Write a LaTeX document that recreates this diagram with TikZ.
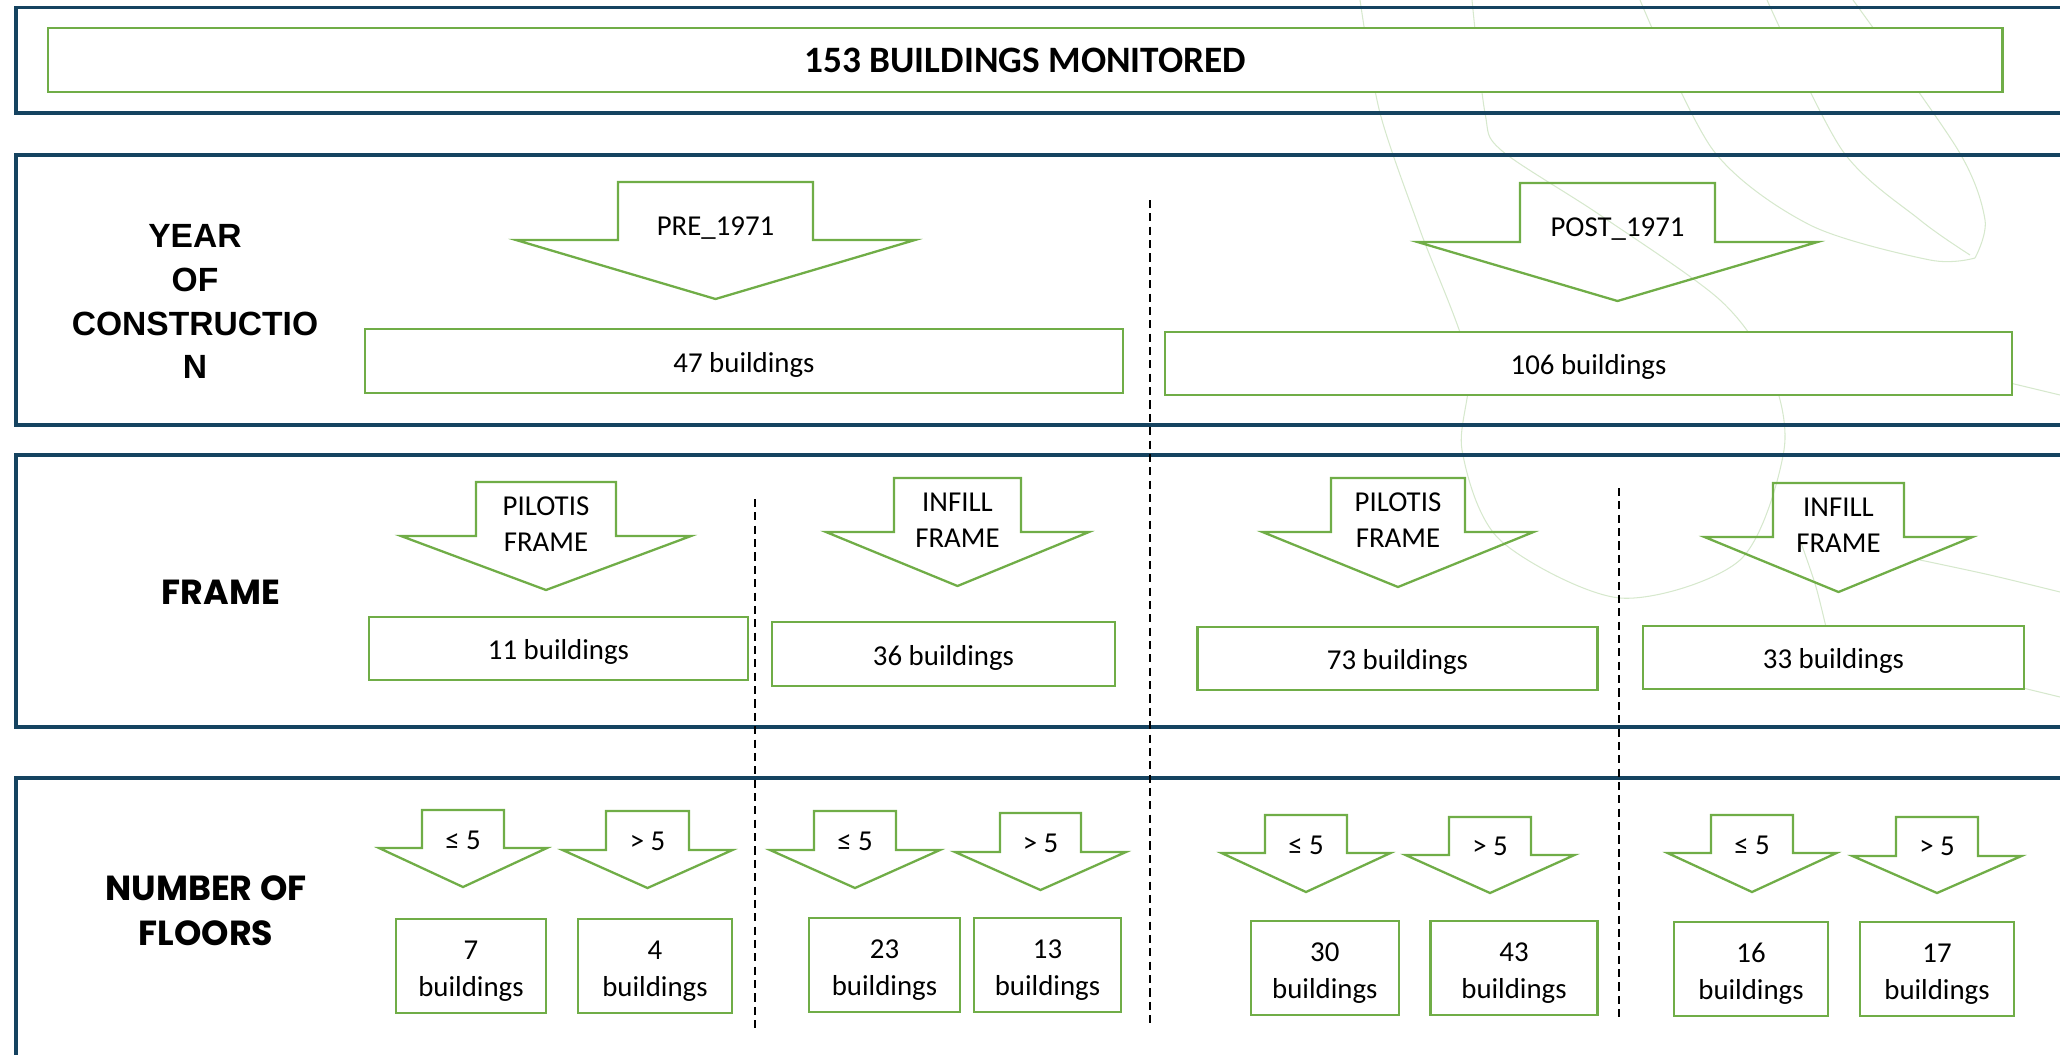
\documentclass[tikz,border=0pt]{standalone}
\usepackage{fontspec}
\setmainfont{Carlito}
\newfontfamily\arialfont{Liberation Sans}
\newfontfamily\popfont{Poppins}
\usetikzlibrary{calc}

\definecolor{framegreen}{RGB}{112,173,71}
\definecolor{bandblue}{RGB}{21,67,96}
\definecolor{wmark}{RGB}{214,232,205}

% block arrow: name, x, top, shoulder, tip, shaft half width, head half width, label
\newcommand{\catarrow}[8]{%
  \draw[arrowline] (#2-#6,#3) -- (#2+#6,#3) -- (#2+#6,#4) -- (#2+#7,#4)
    -- (#2,#5) -- (#2-#7,#4) -- (#2-#6,#4) -- cycle;
  \node[arrowlabel] (#1) at (#2,{#3+0.39*(#5-#3)}) {#8};
}

\begin{document}
\begin{tikzpicture}[x=0.01cm, y=-0.01cm,
    band/.style={draw=bandblue, line width=1pt, line join=miter},
    greenbox/.style={draw=framegreen, line width=0.65pt, fill=white, inner sep=0pt,
      align=center, text height=7.8pt, font=\fontsize{8.2}{10.5}\selectfont},
    floorbox/.style={greenbox, text height=18.5pt, minimum height=0.94cm},
    arrowline/.style={draw=framegreen, line width=0.65pt, line join=miter},
    arrowlabel/.style={inner sep=0pt, align=center, font=\fontsize{8.2}{10.2}\selectfont},
    seclabel/.style={inner sep=0pt, align=center},
    divider/.style={line width=0.42pt, dash pattern=on 2.3pt off 1.5pt},
    wmarkline/.style={draw=wmark, line width=0.3pt}]
  \useasboundingbox (0,0) rectangle (2060,1054);

  % faint background curves
  \draw[wmarkline] plot[smooth] coordinates {(1360,0) (1380,113) (1420,230) (1468,360)
    (1462,450) (1500,540) (1620,598) (1740,560) (1784,450) (1770,370) (1720,300)
    (1600,215) (1501,150) (1485,113) (1472,0)};
  \draw[wmarkline] plot[smooth] coordinates {(1640,0) (1713,150) (1810,225) (1930,260) (1975,258)};
  \draw[wmarkline] plot[smooth] coordinates {(1767,0) (1842,150) (1920,220) (1970,255)};
  \draw[wmarkline] plot[smooth] coordinates {(1853,0) (1958,150) (1985,220) (1975,258)};
  \draw[wmarkline] plot[smooth] coordinates {(1800,540) (1816,587) (1829,640)};
  \draw[wmarkline] plot[smooth] coordinates {(1920,560) (1990,575) (2060,592)};
  \draw[wmarkline] (2023,688) -- (2060,697);
  \draw[wmarkline] (2010,383) -- (2060,395);

  % bands
  \draw[band] (2075,7.5) -| (16,113) -- (2075,113);
  \draw[band] (2075,155) -| (16,425) -- (2075,425);
  \draw[band] (2075,455) -| (16,727) -- (2075,727);
  \draw[band] (2075,778) -| (16,1070);

  \node[greenbox, minimum width=19.53cm, minimum height=0.64cm, text height=6.9pt,
    font=\fontsize{10.6}{12}\selectfont\bfseries] (total) at (1025.3,60) {153 BUILDINGS MONITORED};

  % row labels
  \node[seclabel, font={\fontsize{9.55}{12.5}\selectfont\arialfont\bfseries}] (yearlbl)
    at (195,301.5) {YEAR\\OF\\CONSTRUCTIO\\N};
  \node[seclabel, font={\fontsize{9.9}{12.8}\selectfont\popfont\bfseries}] (framelbl)
    at (221,592) {FRAME};
  \node[seclabel, font={\fontsize{9.9}{12.8}\selectfont\popfont\bfseries}] (floorslbl)
    at (206,910.5) {NUMBER OF\\FLOORS};

  % year of construction
  \catarrow{pre}{715.5}{182}{240}{299}{97.5}{199.5}{PRE\_1971}
  \catarrow{post}{1617.5}{183}{242}{301}{97.5}{200}{POST\_1971}
  \node[greenbox, minimum width=7.58cm, minimum height=0.64cm] (b47) at (744,361) {47 buildings};
  \node[greenbox, minimum width=8.47cm, minimum height=0.63cm] (b106) at (1588.5,363.5) {106 buildings};

  % frame
  \catarrow{pilotisA}{546}{482}{536}{590}{70}{145}{PILOTIS\\FRAME}
  \catarrow{infillA}{957.5}{478}{532}{586}{63.5}{131.5}{INFILL\\FRAME}
  \catarrow{pilotisB}{1398}{478}{532}{587}{67}{135.5}{PILOTIS\\FRAME}
  \catarrow{infillB}{1838.5}{483}{537}{592}{65.5}{134}{INFILL\\FRAME}
  \node[greenbox, minimum width=3.79cm, minimum height=0.63cm] (b11) at (558.5,648.5) {11 buildings};
  \node[greenbox, minimum width=3.43cm, minimum height=0.64cm] (b36) at (943.5,654) {36 buildings};
  \node[greenbox, minimum width=4.00cm, minimum height=0.63cm] (b73) at (1397.5,658.5) {73 buildings};
  \node[greenbox, minimum width=3.81cm, minimum height=0.63cm] (b33) at (1833.5,657.5) {33 buildings};

  % number of floors
  \catarrow{lowA}{463}{810}{848}{887}{41}{84}{≤ 5}
  \catarrow{highA}{647.5}{811}{850}{888}{41.5}{85}{> 5}
  \catarrow{lowB}{855}{811}{850}{888}{41}{85}{≤ 5}
  \catarrow{highB}{1040.5}{813}{852}{890}{40.5}{85.5}{> 5}
  \catarrow{lowC}{1306}{815}{853}{892}{41}{84.5}{≤ 5}
  \catarrow{highC}{1490}{817}{855}{893}{41}{84.5}{> 5}
  \catarrow{lowD}{1752}{815}{853}{892}{41}{84.5}{≤ 5}
  \catarrow{highD}{1937}{817}{856}{893}{41}{84.5}{> 5}
  \node[floorbox, minimum width=1.50cm] (b7) at (471,966) {7\\buildings};
  \node[floorbox, minimum width=1.54cm] (b4) at (655,966) {4\\buildings};
  \node[floorbox, minimum width=1.51cm] (b23) at (884.5,965) {23\\buildings};
  \node[floorbox, minimum width=1.47cm] (b13) at (1047.5,965) {13\\buildings};
  \node[floorbox, minimum width=1.48cm] (b30) at (1324.8,968) {30\\buildings};
  \node[floorbox, minimum width=1.67cm] (b43) at (1514,968) {43\\buildings};
  \node[floorbox, minimum width=1.54cm] (b16) at (1751,969) {16\\buildings};
  \node[floorbox, minimum width=1.54cm] (b17) at (1937,969) {17\\buildings};

  % dividers
  \draw[divider] (1150,200) -- (1150,1027);
  \draw[divider] (755,499) -- (755,1032);
  \draw[divider] (1619,488) -- (1619,1020);
\end{tikzpicture}
\end{document}
